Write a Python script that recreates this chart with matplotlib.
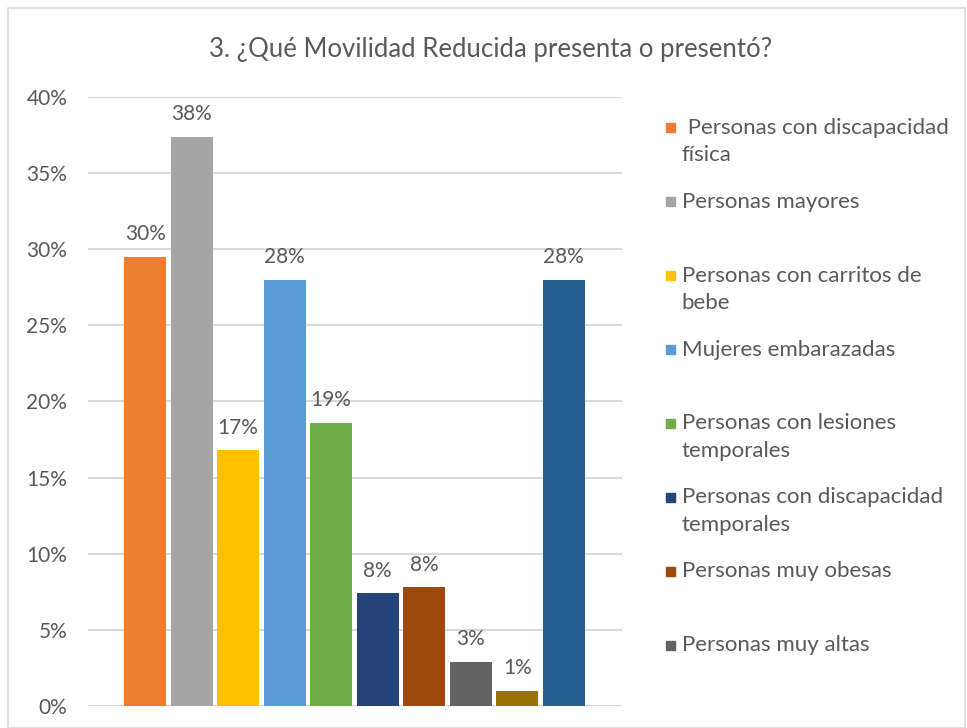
import matplotlib.pyplot as plt
from matplotlib.patches import Rectangle

# Data
categories = [
    " Personas con discapacidad\nfísica",
    "Personas mayores",
    "Personas con carritos de\nbebe",
    "Mujeres embarazadas",
    "Personas con lesiones\ntemporales",
    "Personas con discapacidad\ntemporales",
    "Personas muy obesas",
    "Personas muy altas",
    "Otros 1",
    "Otros 2",
]
values = [0.295, 0.374, 0.168, 0.280, 0.186, 0.074, 0.078, 0.029, 0.010, 0.280]
value_labels = ["30%", "38%", "17%", "28%", "19%", "8%", "8%", "3%", "1%", "28%"]
yticks = [0.0, 0.05, 0.10, 0.15, 0.20, 0.25, 0.30, 0.35, 0.40]
ytick_labels = ["0%", "5%", "10%", "15%", "20%", "25%", "30%", "35%", "40%"]
n_legend = 8  # only the first 8 entries are visible in the legend

colors = ["#ED7D31", "#A5A5A5", "#FFC000", "#5B9BD5", "#70AD47",
          "#264478", "#9E480E", "#636363", "#997300", "#255E91"]
text_color = "#595959"

plt.rcParams['font.family'] = ['Lato', 'DejaVu Sans']

fig = plt.figure(figsize=(9.67, 7.28), dpi=100)
ax = fig.add_axes([0.091, 0.0302, 0.552, 0.8366])

# chart border
fig.patches.append(Rectangle((0.008, 0.0), 0.99, 0.989, transform=fig.transFigure,
                             fill=False, edgecolor="#d9d9d9", linewidth=1.2))

xs = range(len(values))
ax.bar(xs, values, width=0.9, color=colors, zorder=3)
for x, v, lab in zip(xs, values, value_labels):
    ax.annotate(lab, (x, v), xytext=(0, 9), textcoords="offset points",
                ha="center", va="bottom", fontsize=15, color=text_color)

ax.set_ylim(0, 0.40)
ax.set_xlim(-1.23, 10.25)
ax.set_yticks(yticks)
ax.set_yticklabels(ytick_labels, fontsize=15, color=text_color)
ax.set_xticks([])
ax.tick_params(axis="y", length=0, pad=15)
ax.grid(axis="y", color="#d9d9d9", linewidth=1.5, zorder=0)
for s in ax.spines.values():
    s.set_visible(False)

fig.text(0.507, 0.932, "3. ¿Qué Movilidad Reducida presenta o presentó?",
         ha="center", va="center", fontsize=18.5, color=text_color)

# legend drawn entry by entry with equal spacing
y0 = 1 - 128 / 728
step = 73.9 / 728
for i in range(n_legend):
    y = y0 - i * step
    fig.patches.append(Rectangle((0.689, y - 0.006), 0.0095, 0.0125,
                                 transform=fig.transFigure, color=colors[i]))
    fig.text(0.705, y + 0.014, categories[i], ha="left", va="top",
             fontsize=16, color=text_color, linespacing=1.45)

fig.savefig("out.png", dpi=100)
